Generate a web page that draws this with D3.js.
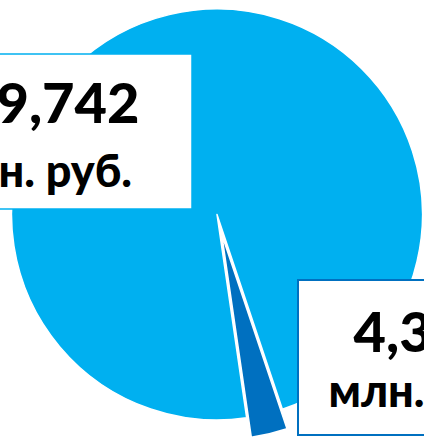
<!DOCTYPE html>
<html>
<head>
<meta charset="utf-8">
<script src="https://cdn.jsdelivr.net/npm/d3@7"></script>
<style>
  html, body { margin: 0; padding: 0; background: #fff; overflow: hidden; }
  svg { display: block; }
</style>
</head>
<body>
<svg width="424" height="437"></svg>
<script>
// data (млн. руб.)
var categories = ["big", "small"];
var values = [149742, 4389];
var valueLabels = ["149,742", "4,389"];
var unitLabel = "млн. руб.";
var colors = ["#00B0F0", "#0070C0"];

var svg = d3.select("svg"),
    cx = 217, cy = 214.5, radius = 205.5;

var pie = d3.pie()
    .sort(null)
    .startAngle(171.7 * Math.PI / 180) // first slice angle
    .endAngle(171.7 * Math.PI / 180 + 2 * Math.PI);

var arc = d3.arc().innerRadius(0).outerRadius(radius);

var data = categories.map(function(c, i) { return {name: c, value: values[i]}; });
var arcs = pie.value(function(d) { return d.value; })(data);

var g = svg.append("g").attr("transform", "translate(" + cx + "," + cy + ")");

// the small slice is pulled out along its bisector
var explode = [0, 20];

g.selectAll("path")
    .data(arcs)
  .enter().append("path")
    .attr("d", arc)
    .attr("fill", function(d, i) { return colors[i]; })
    .attr("stroke", "#fff")
    .attr("stroke-width", 1.5)
    .attr("stroke-linejoin", "round")
    .attr("transform", function(d, i) {
      var a = (d.startAngle + d.endAngle) / 2;
      return "translate(" + (Math.sin(a) * explode[i]) + "," + (-Math.cos(a) * explode[i]) + ")";
    });

// data label boxes (placed by hand, like in the original)
var labelLayout = [
  {x: -121, y: 54, w: 313, h: 155, line1: 69, line2: 133},
  {x: 298, y: 280, w: 254, h: 155, line1: 72, line2: 127}
];

var labels = svg.selectAll("g.label")
    .data(labelLayout)
  .enter().append("g")
    .attr("class", "label");

labels.append("rect")
    .attr("x", function(d) { return d.x; })
    .attr("y", function(d) { return d.y; })
    .attr("width", function(d) { return d.w; })
    .attr("height", function(d) { return d.h; })
    .attr("fill", "#fff")
    .attr("stroke", function(d, i) { return colors[i]; })
    .attr("stroke-width", function(d, i) { return i ? 2 : 1.5; });

labels.append("text")
    .attr("x", function(d) { return d.x + d.w / 2; })
    .attr("y", function(d) { return d.y + d.line1; })
    .attr("text-anchor", "middle")
    .attr("font-family", "Lato, 'Noto Sans', sans-serif")
    .attr("font-weight", 900)
    .attr("font-size", 56)
    .attr("fill", "#000")
    .text(function(d, i) { return valueLabels[i]; });

labels.append("text")
    .attr("x", function(d) { return d.x + d.w / 2; })
    .attr("y", function(d) { return d.y + d.line2; })
    .attr("text-anchor", "middle")
    .attr("font-family", "Lato, 'Noto Sans', sans-serif")
    .attr("font-weight", 900)
    .attr("font-size", 45)
    .attr("fill", "#000")
    .text(unitLabel);
</script>
</body>
</html>
